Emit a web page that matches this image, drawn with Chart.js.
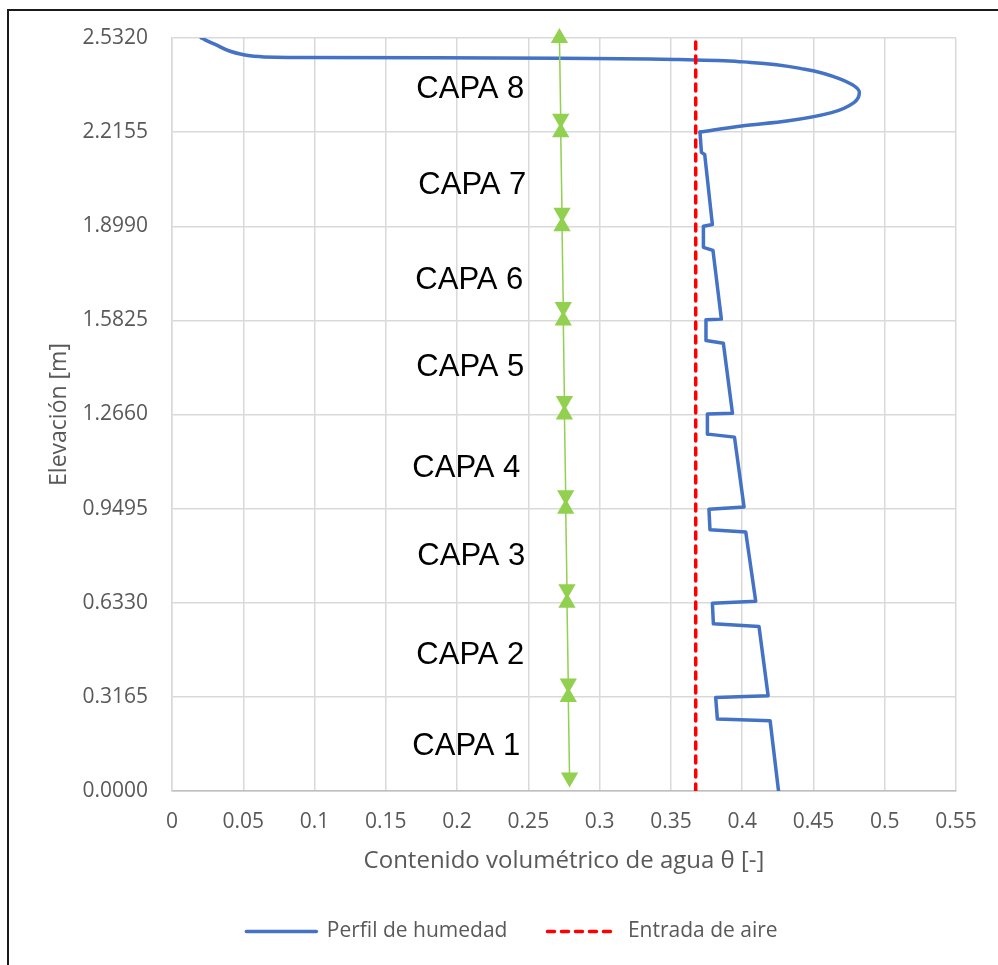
<!DOCTYPE html>
<html><head><meta charset="utf-8">
<script src="https://cdn.jsdelivr.net/npm/chart.js@4.4.0/dist/chart.umd.min.js"></script>
<style>
html,body{margin:0;padding:0;background:#fff;width:998px;height:965px;overflow:hidden;}
#frame{position:absolute;left:7px;top:9px;width:1200px;height:1200px;border-left:2px solid #1a1a1a;border-top:2px solid #1a1a1a;}
#c{position:absolute;left:0;top:0;}
</style></head><body>
<div id="frame"></div>
<canvas id="c" width="998" height="965"></canvas>
<script>
// ---- data ----
const xTickValues = [0, 0.05, 0.1, 0.15, 0.2, 0.25, 0.3, 0.35, 0.4, 0.45, 0.5, 0.55];
const xTickLabels = ['0','0.05','0.1','0.15','0.2','0.25','0.3','0.35','0.4','0.45','0.5','0.55'];
const yTickValues = [0, 0.3165, 0.633, 0.9495, 1.266, 1.5825, 1.899, 2.2155, 2.532];
const yTickLabels = ['0.0000','0.3165','0.6330','0.9495','1.2660','1.5825','1.8990','2.2155','2.5320'];

// stepped part of the moisture profile (bottom to top)
const profileTheta = [0.4255, 0.4196, 0.3826, 0.3814, 0.4182, 0.4118, 0.3798, 0.3791, 0.4095, 0.4025,
  0.3774, 0.3767, 0.4013, 0.3946, 0.3760, 0.3756, 0.3932, 0.3868, 0.3746, 0.3746,
  0.3854, 0.3795, 0.3728, 0.3728, 0.3791, 0.3737, 0.3714, 0.3704];
const profileElev = [0, 0.236, 0.2417, 0.3145, 0.3203, 0.5529, 0.562, 0.6314, 0.6381, 0.8707,
  0.8788, 0.9472, 0.955, 1.1899, 1.2, 1.2675, 1.2698, 1.5058, 1.5145, 1.5843,
  1.5867, 1.818, 1.828, 1.899, 1.9046, 2.1406, 2.1474, 2.2158];
// smooth upper part of the profile (layer 8)
const curveTheta = [0.3704, 0.3997, 0.4313, 0.4627, 0.4784, 0.4822, 0.4690, 0.4440, 0.4060, 0.3670, 0.2711, 0.0927, 0.0611, 0.0487, 0.0299, 0.0205];
const curveElev  = [2.2158, 2.236, 2.2528, 2.2811, 2.3148, 2.3485, 2.3934, 2.427, 2.4496, 2.4584, 2.4641, 2.4665, 2.4698, 2.4776, 2.5113, 2.532];

const airEntryTheta = [0.3674, 0.3674];
const airEntryElev = [0, 2.532];

const layerNames = ['CAPA 1','CAPA 2','CAPA 3','CAPA 4','CAPA 5','CAPA 6','CAPA 7','CAPA 8'];
const labelTheta = [0.2065, 0.2093, 0.2100, 0.2065, 0.2093, 0.2086, 0.2107, 0.2093];
const labelElev = [0.150, 0.457, 0.787, 1.083, 1.4226, 1.7175, 2.0377, 2.3597];

const arrowFrom = [0.045, 0.3615, 0.678, 0.9945, 1.311, 1.6275, 1.944, 2.2605];
const arrowTo = [0.3165, 0.633, 0.9495, 1.266, 1.5825, 1.899, 2.2155, 2.532];
const arrowThetaFrom = [0.2789, 0.2780, 0.2771, 0.2762, 0.2753, 0.2745, 0.2736, 0.2727];
const arrowThetaTo = [0.2780, 0.2771, 0.2762, 0.2753, 0.2745, 0.2736, 0.2727, 0.2718];

// ---- styles ----
const FONT = '"Open Sans", "Noto Sans", sans-serif';
const GREY = '#595959';
const BLUE = '#4472C4';
const RED = '#FF0000';
const GREEN = '#92D050';

const pts = (xs, ys) => xs.map((v, i) => ({x: v, y: ys[i]}));

const datasets = [
  { label: 'Perfil de humedad', data: pts(profileTheta, profileElev), borderColor: BLUE, backgroundColor: BLUE,
    borderWidth: 3.5, pointRadius: 0, borderJoinStyle: 'round', borderCapStyle: 'round', tension: 0, order: 3, xAxisID: 'x', yAxisID: 'y' },
  { label: 'Entrada de aire', data: pts(airEntryTheta, airEntryElev), borderColor: RED, backgroundColor: RED,
    borderWidth: 3.5, borderDash: [7, 7], borderCapStyle: 'round', pointRadius: 0, order: 2, xAxisID: 'x', yAxisID: 'y' },
  { label: 'curve', data: pts(curveTheta, curveElev), borderColor: BLUE, borderWidth: 3.5, pointRadius: 0,
    cubicInterpolationMode: 'monotone', borderCapStyle: 'round', order: 3, xAxisID: 'x', yAxisID: 'y' }
];
layerNames.forEach((n, i) => {
  datasets.push({
    label: 'arrow ' + n,
    data: [{x: arrowThetaFrom[i], y: arrowFrom[i]}, {x: arrowThetaTo[i], y: arrowTo[i]}],
    borderColor: GREEN, backgroundColor: GREEN, borderWidth: 1.5,
    pointStyle: 'triangle', pointRadius: 10, pointRotation: [180, 0],
    pointBackgroundColor: GREEN, pointBorderColor: GREEN, pointBorderWidth: 0,
    clip: false, order: 1, xAxisID: 'x', yAxisID: 'y'
  });
});

const capaPlugin = {
  id: 'capas',
  afterDatasetsDraw(chart) {
    const {ctx, scales: {x, y}} = chart;
    ctx.save();
    ctx.font = '31px "Liberation Sans", Arial, sans-serif';
    ctx.fillStyle = '#000';
    ctx.textAlign = 'center';
    ctx.textBaseline = 'middle';
    layerNames.forEach((n, i) => {
      ctx.fillText(n, x.getPixelForValue(labelTheta[i]), y.getPixelForValue(labelElev[i]));
    });
    ctx.restore();
  }
};

new Chart(document.getElementById('c'), {
  type: 'line',
  data: { datasets },
  options: {
    responsive: false, animation: false, devicePixelRatio: 1,
    indexAxis: 'y',
    layout: { padding: { left: 26, right: 0, top: 38, bottom: 13 } },
    plugins: {
      tooltip: { enabled: false },
      legend: {
        position: 'bottom', align: 'center',
        labels: {
          usePointStyle: true, pointStyle: 'line', pointStyleWidth: 70, boxHeight: 21,
          font: { family: FONT, size: 21 }, color: GREY, padding: 40,
          generateLabels: (chart) => [0, 1].map(i => {
            const ds = chart.data.datasets[i];
            return { text: ds.label, strokeStyle: ds.borderColor, fillStyle: ds.borderColor,
              lineWidth: ds.borderWidth, lineDash: ds.borderDash || [], lineCap: 'round',
              pointStyle: 'line', hidden: false, datasetIndex: i, fontColor: GREY };
          })
        }
      }
    },
    scales: {
      x: {
        type: 'linear', position: 'bottom', min: 0, max: 0.55,
        afterBuildTicks: s => { s.ticks = xTickValues.map(v => ({value: v})); },
        afterFit: s => { s.height = 90; },
        ticks: { callback: (v, i) => xTickLabels[i], font: { family: FONT, size: 21 }, color: GREY,
          padding: 18, maxRotation: 0, autoSkip: false },
        grid: { color: '#d9d9d9', lineWidth: 1.5, drawTicks: false },
        border: { color: '#bfbfbf', width: 1.5 },
        title: { display: true, text: 'Contenido volumétrico de agua θ [-]', font: { family: FONT, size: 24 },
          color: GREY, padding: { top: 0, bottom: 5 } }
      },
      y: {
        type: 'linear', position: 'left', min: 0, max: 2.532,
        afterBuildTicks: s => { s.ticks = yTickValues.map(v => ({value: v})); },
        afterFit: s => { s.width = 146; },
        ticks: { callback: (v, i) => yTickLabels[i], font: { family: FONT, size: 21 }, color: GREY,
          padding: 24, autoSkip: false },
        grid: { color: '#d9d9d9', lineWidth: 1.5, drawTicks: false },
        border: { color: '#d9d9d9', width: 1.5 },
        title: { display: true, text: 'Elevación [m]', font: { family: FONT, size: 23 }, color: GREY,
          padding: { top: 20, bottom: 0 } }
      },
      yR: {
        type: 'linear', position: 'right', display: true,
        grid: { display: false }, ticks: { display: false }, border: { display: false },
        afterFit: s => { s.width = 42; }
      }
    }
  },
  plugins: [capaPlugin]
});
</script></body></html>
